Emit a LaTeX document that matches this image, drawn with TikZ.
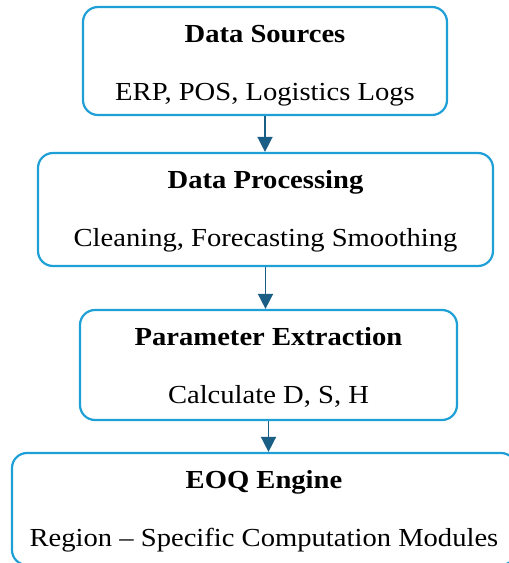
\documentclass[tikz,border=0pt]{standalone}
\usepackage{fontspec}
\setmainfont[FakeStretch=1.1]{Liberation Serif}
\usetikzlibrary{arrows.meta, positioning}
\definecolor{boxblue}{RGB}{30,160,215}
\definecolor{arrowblue}{RGB}{26,94,133}
\tikzset{
  stagebox/.style={draw=boxblue, line width=2.2pt, rounded corners=15pt, align=center,
    font=\fontsize{26}{58}\selectfont, inner sep=0pt},
  flow/.style={draw=arrowblue, line width=1.5pt, -{Triangle[length=15pt,width=15pt]}}
}
\begin{document}
\begin{tikzpicture}[x=1pt,y=-1pt]
  \useasboundingbox (0,0) rectangle (509,563);
  % pipeline stages
  \node[stagebox, minimum width=364pt, minimum height=108pt] (src) at (265,61)
    {\rule{0pt}{26pt}\textbf{Data Sources}\\ERP, POS, Logistics Logs};
  \node[stagebox, minimum width=455pt, minimum height=113pt] (proc) at (265.5,209.5)
    {\rule{0pt}{22pt}\textbf{Data Processing}\\Cleaning, Forecasting Smoothing};
  \node[stagebox, minimum width=377pt, minimum height=110pt] (param) at (268.5,365)
    {\rule{0pt}{22pt}\textbf{Parameter Extraction}\\Calculate D, S, H};
  \node[stagebox, minimum width=504pt, minimum height=112pt] (eoq) at (264,509)
    {\rule{0pt}{22pt}\textbf{EOQ Engine}\\Region – Specific Computation Modules};
  % arrows
  \draw[flow] (src.south) -- (src.south |- proc.north);
  \draw[flow] (proc.south) -- (proc.south |- param.north);
  \draw[flow] (param.south) -- (param.south |- eoq.north);
\end{tikzpicture}
\end{document}
